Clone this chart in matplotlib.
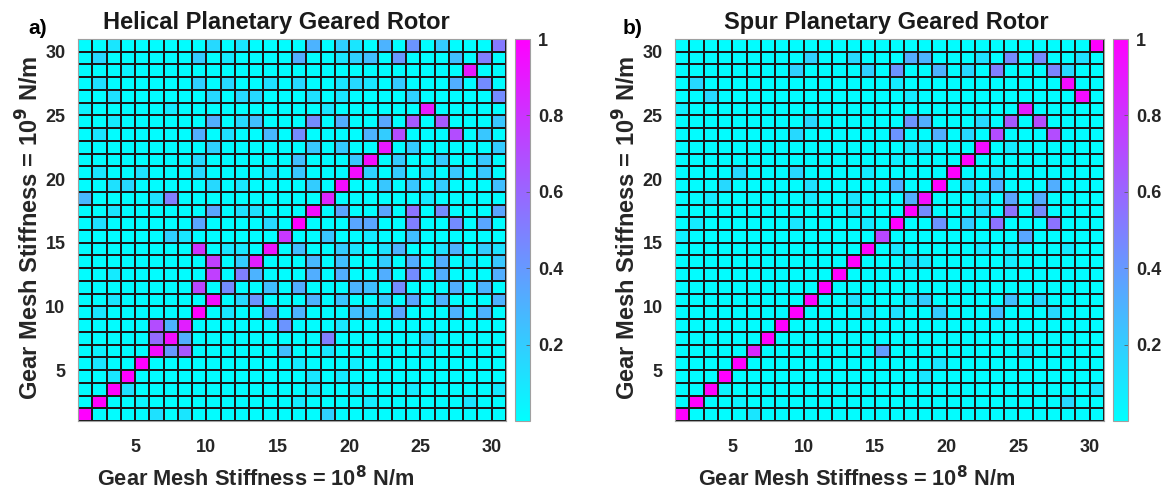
import numpy as np
import matplotlib
matplotlib.use("Agg")
import matplotlib.pyplot as plt

plt.rcParams['font.family'] = ['Liberation Sans', 'DejaVu Sans']
plt.rcParams['font.weight'] = 'bold'

# MAC values in percent, rows listed from mode 30 (top) down to mode 1 (bottom)
helical_mac = [
    [1, 1, 10, 1, 1, 1, 1, 1, 1, 15, 1, 10, 1, 1, 1, 1, 30, 1, 18, 10, 1, 30, 1, 42, 1, 20, 1, 1, 1, 52],
    [1, 15, 1, 1, 1, 1, 1, 1, 20, 1, 8, 1, 1, 1, 1, 32, 1, 1, 10, 18, 25, 1, 40, 1, 1, 1, 25, 1, 50, 1],
    [1, 1, 1, 5, 1, 1, 1, 1, 1, 1, 1, 1, 1, 1, 1, 1, 1, 1, 1, 1, 1, 1, 1, 1, 1, 1, 1, 90, 1, 1],
    [1, 12, 1, 1, 1, 1, 1, 1, 18, 1, 15, 1, 1, 12, 1, 15, 1, 1, 10, 15, 10, 1, 20, 1, 1, 1, 32, 1, 45, 1],
    [1, 1, 12, 1, 1, 1, 1, 1, 1, 15, 1, 15, 15, 1, 1, 1, 12, 1, 10, 1, 1, 1, 1, 18, 1, 1, 1, 1, 1, 45],
    [5, 1, 1, 1, 1, 1, 8, 1, 1, 1, 1, 1, 1, 1, 1, 1, 1, 10, 1, 1, 1, 1, 1, 1, 90, 1, 1, 1, 1, 1],
    [1, 1, 8, 1, 1, 1, 1, 1, 1, 32, 1, 15, 25, 1, 1, 1, 45, 1, 32, 1, 1, 35, 1, 65, 1, 65, 1, 1, 1, 22],
    [1, 10, 1, 1, 1, 1, 1, 1, 32, 1, 12, 1, 1, 28, 1, 45, 1, 1, 1, 1, 30, 20, 70, 1, 1, 1, 70, 1, 22, 1],
    [1, 1, 1, 1, 1, 1, 1, 1, 1, 18, 1, 1, 1, 1, 1, 1, 22, 1, 20, 1, 1, 90, 1, 20, 1, 1, 1, 1, 1, 20],
    [1, 1, 1, 1, 1, 1, 1, 1, 15, 1, 1, 1, 1, 1, 1, 25, 1, 1, 1, 22, 95, 1, 20, 1, 1, 20, 1, 1, 22, 1],
    [1, 10, 1, 1, 12, 1, 1, 1, 15, 1, 1, 1, 1, 10, 1, 22, 1, 1, 1, 95, 18, 1, 20, 1, 10, 1, 22, 1, 22, 1],
    [1, 1, 12, 15, 1, 1, 1, 1, 1, 15, 1, 10, 1, 1, 1, 1, 20, 1, 95, 1, 1, 22, 1, 22, 1, 20, 1, 1, 1, 25],
    [28, 1, 1, 1, 1, 12, 50, 1, 1, 1, 1, 1, 1, 1, 1, 1, 1, 85, 1, 1, 1, 1, 1, 1, 8, 1, 1, 1, 1, 1],
    [1, 1, 10, 1, 1, 1, 1, 1, 1, 35, 1, 12, 12, 1, 1, 1, 95, 1, 35, 1, 1, 35, 1, 55, 1, 45, 1, 1, 1, 35],
    [1, 12, 1, 1, 1, 1, 1, 1, 35, 1, 1, 1, 1, 15, 1, 100, 1, 1, 1, 35, 35, 1, 1, 50, 1, 1, 45, 1, 35, 1],
    [1, 1, 1, 1, 1, 1, 18, 10, 1, 1, 1, 1, 1, 1, 78, 1, 1, 22, 1, 1, 8, 1, 1, 25, 1, 1, 1, 1, 1, 1],
    [1, 1, 1, 1, 1, 1, 1, 1, 80, 1, 10, 10, 1, 92, 1, 25, 1, 1, 20, 10, 1, 12, 30, 1, 1, 12, 30, 1, 20, 12],
    [1, 1, 1, 1, 1, 1, 1, 1, 1, 75, 1, 20, 88, 1, 1, 1, 28, 1, 25, 1, 1, 20, 1, 32, 1, 32, 1, 8, 1, 22],
    [1, 1, 8, 1, 1, 1, 1, 1, 1, 75, 1, 50, 30, 1, 1, 1, 32, 1, 32, 1, 1, 32, 1, 45, 1, 32, 1, 1, 1, 32],
    [1, 1, 1, 1, 1, 1, 1, 1, 72, 1, 45, 1, 1, 25, 1, 32, 1, 1, 1, 30, 25, 1, 45, 1, 1, 1, 32, 1, 30, 1],
    [1, 1, 10, 1, 1, 1, 1, 1, 1, 95, 1, 15, 42, 1, 1, 1, 30, 1, 22, 1, 1, 20, 1, 35, 1, 30, 1, 1, 1, 30],
    [1, 10, 1, 1, 1, 1, 1, 1, 100, 1, 10, 1, 1, 40, 1, 30, 1, 1, 1, 25, 22, 1, 35, 1, 1, 1, 30, 1, 30, 1],
    [1, 1, 1, 1, 1, 70, 30, 88, 1, 1, 1, 1, 1, 1, 42, 1, 1, 1, 10, 1, 1, 1, 1, 1, 1, 1, 1, 1, 1, 1],
    [1, 1, 1, 1, 1, 58, 95, 32, 1, 1, 1, 1, 1, 1, 1, 1, 1, 50, 1, 1, 1, 1, 1, 1, 15, 1, 1, 1, 1, 1],
    [1, 5, 1, 1, 1, 95, 40, 65, 1, 1, 1, 1, 1, 1, 25, 1, 1, 10, 1, 1, 1, 1, 1, 1, 5, 1, 1, 1, 1, 1],
    [1, 10, 1, 1, 100, 1, 1, 1, 1, 1, 1, 1, 1, 1, 1, 8, 1, 1, 1, 6, 1, 1, 1, 1, 1, 1, 1, 1, 1, 1],
    [1, 1, 10, 100, 1, 1, 1, 1, 1, 1, 1, 1, 1, 1, 1, 1, 10, 1, 8, 1, 1, 1, 1, 1, 1, 1, 1, 1, 1, 1],
    [1, 1, 100, 12, 1, 1, 1, 1, 1, 1, 1, 1, 1, 1, 1, 1, 8, 1, 1, 8, 1, 1, 1, 8, 1, 1, 1, 1, 1, 8],
    [1, 100, 1, 1, 5, 1, 1, 1, 1, 1, 1, 1, 1, 1, 1, 8, 1, 1, 1, 1, 8, 1, 1, 1, 1, 1, 1, 10, 1, 1],
    [100, 1, 1, 1, 1, 12, 1, 10, 1, 1, 1, 1, 1, 1, 1, 1, 1, 18, 1, 1, 1, 1, 1, 1, 1, 1, 1, 1, 1, 1],
]

spur_mac = [
    [1, 1, 1, 1, 1, 1, 1, 1, 1, 1, 1, 1, 1, 1, 1, 1, 1, 1, 1, 1, 1, 1, 1, 1, 1, 1, 1, 1, 1, 100],
    [1, 1, 1, 1, 1, 1, 1, 1, 1, 18, 1, 1, 15, 1, 1, 1, 32, 30, 1, 1, 1, 12, 1, 45, 1, 45, 1, 1, 12, 1],
    [1, 1, 1, 1, 1, 1, 1, 1, 18, 1, 1, 1, 1, 18, 1, 42, 1, 1, 30, 1, 15, 1, 50, 1, 1, 1, 48, 15, 1, 1],
    [1, 15, 1, 1, 1, 1, 1, 1, 1, 1, 1, 1, 1, 1, 1, 8, 1, 1, 1, 1, 1, 1, 1, 1, 1, 1, 1, 95, 1, 1],
    [1, 1, 15, 1, 1, 1, 1, 1, 1, 1, 1, 1, 1, 1, 1, 1, 8, 1, 1, 1, 1, 1, 1, 1, 1, 1, 1, 1, 95, 1],
    [6, 1, 1, 1, 1, 1, 1, 1, 1, 1, 1, 1, 1, 1, 1, 1, 1, 1, 1, 1, 1, 1, 1, 1, 88, 1, 1, 1, 1, 1],
    [1, 1, 1, 1, 1, 1, 1, 1, 1, 15, 1, 1, 1, 1, 1, 1, 42, 32, 1, 1, 1, 15, 1, 65, 1, 70, 1, 1, 1, 1],
    [1, 1, 1, 1, 1, 1, 1, 1, 15, 1, 1, 1, 1, 1, 1, 42, 1, 1, 32, 1, 15, 1, 70, 1, 1, 1, 70, 1, 1, 1],
    [1, 1, 1, 1, 1, 1, 1, 1, 1, 1, 1, 1, 1, 1, 1, 1, 8, 8, 1, 1, 1, 95, 1, 8, 1, 1, 1, 1, 1, 1],
    [1, 1, 1, 1, 1, 1, 1, 1, 1, 1, 1, 1, 1, 1, 1, 6, 1, 1, 1, 1, 100, 1, 1, 1, 1, 1, 1, 1, 1, 1],
    [1, 1, 1, 1, 15, 1, 1, 1, 15, 1, 1, 1, 1, 8, 1, 1, 1, 1, 1, 100, 1, 1, 8, 1, 1, 1, 1, 1, 1, 1],
    [1, 1, 1, 15, 1, 1, 1, 1, 1, 12, 1, 1, 1, 1, 1, 32, 1, 1, 100, 1, 15, 1, 32, 1, 1, 1, 32, 1, 1, 1],
    [1, 1, 8, 1, 1, 1, 1, 1, 1, 8, 1, 1, 10, 1, 1, 1, 32, 95, 1, 1, 1, 12, 1, 35, 1, 32, 1, 1, 1, 1],
    [1, 1, 1, 1, 1, 1, 1, 1, 1, 1, 1, 1, 8, 1, 1, 1, 100, 45, 1, 1, 1, 12, 1, 55, 1, 45, 1, 1, 1, 1],
    [1, 8, 1, 1, 1, 1, 1, 1, 10, 1, 1, 1, 1, 8, 1, 100, 1, 1, 42, 1, 20, 1, 55, 1, 1, 1, 55, 1, 1, 1],
    [6, 1, 1, 1, 1, 1, 1, 1, 1, 1, 1, 1, 1, 1, 72, 1, 1, 1, 1, 1, 1, 1, 1, 1, 35, 1, 1, 1, 1, 1],
    [1, 1, 1, 1, 1, 1, 1, 1, 1, 1, 1, 1, 1, 100, 1, 10, 1, 1, 1, 1, 1, 8, 1, 8, 1, 1, 1, 8, 1, 1],
    [1, 1, 1, 1, 1, 1, 1, 1, 1, 1, 1, 1, 100, 1, 1, 1, 12, 8, 1, 1, 1, 1, 1, 8, 1, 1, 1, 1, 1, 1],
    [1, 1, 1, 1, 1, 1, 1, 1, 1, 1, 1, 100, 1, 1, 1, 1, 1, 1, 1, 1, 1, 1, 1, 1, 1, 1, 1, 1, 1, 1],
    [1, 1, 1, 1, 1, 1, 1, 1, 1, 1, 100, 1, 1, 1, 1, 1, 1, 1, 1, 1, 1, 1, 1, 1, 1, 1, 1, 1, 1, 1],
    [1, 1, 1, 1, 1, 1, 1, 1, 1, 100, 1, 1, 12, 1, 1, 1, 10, 20, 1, 1, 1, 1, 1, 25, 1, 15, 1, 1, 1, 1],
    [1, 1, 1, 1, 1, 1, 1, 1, 100, 1, 1, 1, 1, 10, 1, 12, 1, 1, 20, 1, 1, 1, 25, 1, 1, 1, 15, 1, 1, 1],
    [1, 1, 1, 1, 1, 1, 1, 100, 1, 1, 1, 1, 1, 1, 1, 1, 1, 1, 1, 1, 1, 1, 1, 1, 1, 1, 1, 1, 1, 1],
    [1, 1, 1, 1, 1, 1, 100, 1, 1, 1, 1, 1, 1, 1, 1, 1, 1, 1, 1, 1, 1, 1, 1, 1, 1, 1, 1, 1, 1, 1],
    [1, 1, 1, 1, 1, 85, 1, 1, 1, 1, 1, 1, 1, 1, 38, 1, 1, 1, 1, 1, 1, 1, 1, 1, 8, 1, 1, 1, 1, 1],
    [1, 1, 1, 1, 100, 1, 1, 1, 1, 1, 1, 1, 1, 1, 1, 1, 1, 1, 10, 1, 1, 1, 1, 1, 1, 1, 1, 1, 1, 1],
    [1, 1, 1, 100, 1, 1, 1, 1, 1, 1, 1, 1, 1, 1, 1, 1, 1, 10, 1, 1, 1, 1, 1, 1, 1, 1, 1, 1, 1, 1],
    [1, 1, 100, 5, 1, 1, 1, 1, 1, 1, 1, 1, 1, 1, 1, 1, 1, 1, 1, 1, 1, 1, 1, 1, 1, 1, 1, 1, 1, 10],
    [1, 100, 1, 1, 5, 1, 1, 1, 1, 1, 1, 1, 1, 1, 1, 1, 1, 1, 1, 1, 1, 1, 1, 1, 1, 1, 1, 15, 1, 1],
    [100, 1, 1, 1, 1, 10, 1, 1, 1, 1, 1, 1, 1, 1, 1, 1, 1, 1, 1, 1, 1, 1, 1, 1, 1, 1, 1, 1, 1, 1],
]

titles = ["Helical Planetary Geared Rotor", "Spur Planetary Geared Rotor"]
panel_tags = ["a)", "b)"]
axis_ticks = [5, 10, 15, 20, 25, 30]
cbar_ticks = [0.2, 0.4, 0.6, 0.8, 1.0]
cbar_labels = ["0.2", "0.4", "0.6", "0.8", "1"]

W, H = 1163, 493


def px_box(x0, y0, x1, y1):
    # pixel box (top-left origin) -> figure fraction rect
    return [x0 / W, 1 - y1 / H, (x1 - x0) / W, (y1 - y0) / H]


def main():
    fig = plt.figure(figsize=(W / 100, H / 100), dpi=100)

    axes_px = [(78, 39, 506, 421), (675, 39, 1104, 421)]
    cbar_px = [(515, 39, 530, 421), (1113, 39, 1128, 421)]
    title_x = [276, 886]
    xlabel_x = [256, 857]
    ylabel_x = [30, 627]
    tag_x = [38, 633]

    edges = np.arange(1, 32)
    for idx, data in enumerate([helical_mac, spur_mac]):
        mac = np.flipud(np.array(data, dtype=float) / 100.0)

        ax = fig.add_axes(px_box(*axes_px[idx]))
        mesh = ax.pcolormesh(edges, edges, mac, cmap="cool", vmin=0.0, vmax=1.0,
                             edgecolors="#1a1a1a", linewidth=0.35)
        ax.set_xlim(1, 31)
        ax.set_ylim(1, 31)
        ax.set_xticks(axis_ticks)
        ax.set_yticks(axis_ticks)
        ax.tick_params(direction="in", length=0, labelsize=13, pad=9)
        ax.tick_params(axis="x", pad=13)
        for lab in ax.get_xticklabels() + ax.get_yticklabels():
            lab.set_fontweight("bold")
            lab.set_color("#262626")
        for sp in ax.spines.values():
            sp.set_color("#a0a0a0")
            sp.set_linewidth(0.8)

        cax = fig.add_axes(px_box(*cbar_px[idx]))
        cb = fig.colorbar(mesh, cax=cax, ticks=cbar_ticks)
        cb.ax.set_yticklabels(cbar_labels)
        cb.ax.tick_params(direction="in", length=3, width=0.6, color="#606060",
                          labelsize=13, pad=6)
        for lab in cb.ax.get_yticklabels():
            lab.set_fontweight("bold")
            lab.set_color("#262626")
        cb.outline.set_edgecolor("#a0a0a0")
        cb.outline.set_linewidth(0.8)

        fig.text(title_x[idx] / W, 1 - 23 / H, titles[idx], ha="center", va="center",
                 fontsize=17, fontweight="bold", color="#1a1a1a")
        fig.text(tag_x[idx] / W, 1 - 28 / H, panel_tags[idx], ha="center", va="center",
                 fontsize=15, fontweight="bold", color="black")
        fig.text(xlabel_x[idx] / W, 1 - 479 / H, r"Gear Mesh Stiffness = 10$^{\bf 8}$ N/m",
                 ha="center", va="center", fontsize=15.7, fontweight="bold", color="#262626")
        fig.text(ylabel_x[idx] / W, 1 - 228 / H, r"Gear Mesh Stiffness = 10$^{\bf 9}$ N/m",
                 ha="center", va="center", rotation=90, fontsize=17, fontweight="bold",
                 color="#262626")

    fig.savefig("out.png", dpi=100)


if __name__ == "__main__":
    main()
